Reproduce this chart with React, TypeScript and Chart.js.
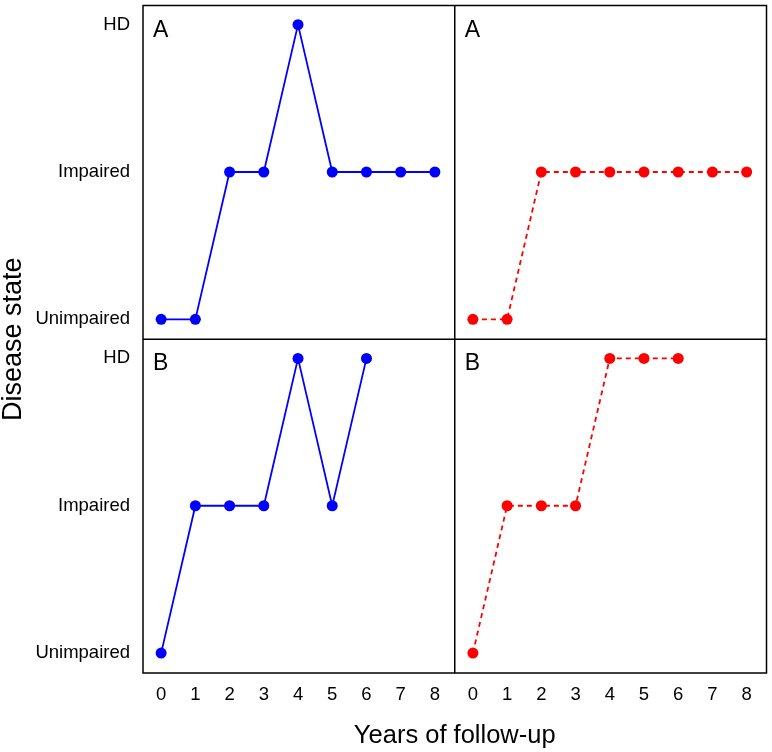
import React, { useEffect, useRef } from 'react';
import { Chart, registerables } from 'chart.js';

Chart.register(...registerables);

// ---- data ----
const years = [0, 1, 2, 3, 4, 5, 6, 7, 8];
const stateLabels = ['Unimpaired', 'Impaired', 'HD'];
const stateTicks = [0, 1, 2];
const panelLabels = ['A', 'A', 'B', 'B'];
const personA_solid = [0, 0, 1, 1, 2, 1, 1, 1, 1];
const personA_dashed = [0, 0, 1, 1, 1, 1, 1, 1, 1];
const personB_solid = [0, 1, 1, 1, 2, 1, 2];
const personB_dashed = [0, 1, 1, 1, 2, 2, 2];
const xTitle = 'Years of follow-up';
const yTitle = 'Disease state';

const FONT = '"Liberation Sans", Arial, sans-serif';

const toPoints = (vals: number[]) => vals.map((v, i) => ({ x: years[i], y: v }));

const panels = [
  { x: 'xL', y: 'yT' },
  { x: 'xR', y: 'yT' },
  { x: 'xL', y: 'yB' },
  { x: 'xR', y: 'yB' },
];

const framePlugin = {
  id: 'frame',
  afterDraw(chart: any) {
    const { ctx, chartArea: a, scales } = chart;
    ctx.save();
    ctx.strokeStyle = '#000';
    ctx.lineWidth = 1.5;
    ctx.strokeRect(a.left, a.top, a.right - a.left, a.bottom - a.top);
    const xm = scales.xL.right;
    const yTop = scales.yT.top < scales.yB.top ? scales.yT : scales.yB;
    const ym = yTop.bottom;
    ctx.beginPath();
    ctx.moveTo(xm, a.top);
    ctx.lineTo(xm, a.bottom);
    ctx.moveTo(a.left, ym);
    ctx.lineTo(a.right, ym);
    ctx.stroke();

    ctx.fillStyle = '#000';
    ctx.font = `23px ${FONT}`;
    ctx.textAlign = 'left';
    ctx.textBaseline = 'alphabetic';
    panels.forEach((p, i) => {
      const xs = scales[p.x];
      const ys = scales[p.y];
      ctx.fillText(panelLabels[i], xs.left + 10, ys.top + 31);
    });

    ctx.font = `25.5px ${FONT}`;
    ctx.textAlign = 'center';
    ctx.fillText(xTitle, (a.left + a.right) / 2, 743);

    ctx.translate(14, (a.top + a.bottom) / 2);
    ctx.rotate(-Math.PI / 2);
    ctx.font = `27px ${FONT}`;
    ctx.textBaseline = 'middle';
    ctx.fillText(yTitle, 0, 0);
    ctx.restore();
  },
};

const xScale = (stackWeight: number) => ({
  type: 'linear' as const,
  position: 'bottom' as const,
  stack: 'x',
  stackWeight,
  min: -0.53,
  max: 8.58,
  grid: { display: false, drawTicks: false },
  border: { display: false },
  ticks: {
    padding: 11,
    autoSkip: false,
    maxRotation: 0,
    color: '#000',
    font: { family: FONT, size: 18.5 },
    callback: (v: any) => String(v),
  },
  afterBuildTicks: (s: any) => {
    s.ticks = years.map((v) => ({ value: v }));
  },
  afterFit: (s: any) => {
    s.height = 79;
    s.paddingLeft = 0;
    s.paddingRight = 0;
  },
});

const yScale = (weight: number) => ({
  type: 'linear' as const,
  position: 'left' as const,
  stack: 'y',
  stackWeight: 1,
  weight,
  min: -0.135,
  max: 2.13,
  grid: { display: false, drawTicks: false },
  border: { display: false },
  ticks: {
    padding: 13,
    color: '#000',
    font: { family: FONT, size: 18.5 },
    callback: (v: any) => stateLabels[v] ?? '',
  },
  afterBuildTicks: (s: any) => {
    s.ticks = stateTicks.map((v) => ({ value: v }));
  },
  afterFit: (s: any) => {
    s.width = 143;
    s.paddingTop = 0;
    s.paddingBottom = 0;
  },
});

const solidStyle = {
  borderColor: '#0000FF',
  backgroundColor: '#0000FF',
  pointBackgroundColor: '#0000FF',
  borderDash: [] as number[],
};
const dashedStyle = {
  borderColor: '#FF0000',
  backgroundColor: '#FF0000',
  pointBackgroundColor: '#FF0000',
  borderDash: [5, 4],
};

export default function App() {
  const ref = useRef<HTMLCanvasElement | null>(null);
  useEffect(() => {
    document.body.style.margin = '0';
    if (!ref.current) return;
    const common = {
      borderWidth: 1.8,
      pointRadius: 5.5,
      pointBorderWidth: 0,
      tension: 0,
      fill: false,
    };
    const chart = new Chart(ref.current, {
      type: 'line',
      data: {
        datasets: [
          { label: 'A solid', data: toPoints(personA_solid), xAxisID: 'xL', yAxisID: 'yT', ...common, ...solidStyle },
          { label: 'A dashed', data: toPoints(personA_dashed), xAxisID: 'xR', yAxisID: 'yT', ...common, ...dashedStyle },
          { label: 'B solid', data: toPoints(personB_solid), xAxisID: 'xL', yAxisID: 'yB', ...common, ...solidStyle },
          { label: 'B dashed', data: toPoints(personB_dashed), xAxisID: 'xR', yAxisID: 'yB', ...common, ...dashedStyle },
        ] as any,
      },
      options: {
        animation: false,
        responsive: false,
        layout: { padding: { left: 0, top: 4, right: 5, bottom: 0 } },
        plugins: { legend: { display: false }, tooltip: { enabled: false }, title: { display: false } },
        scales: {
          xL: xScale(1),
          xR: xScale(1),
          yT: yScale(2),
          yB: yScale(1),
        } as any,
      },
      plugins: [framePlugin],
    });
    return () => chart.destroy();
  }, []);
  return (
    <div style={{ width: 772, height: 752, background: '#fff' }}>
      <canvas ref={ref} width={772} height={752} style={{ display: 'block' }} />
    </div>
  );
}
